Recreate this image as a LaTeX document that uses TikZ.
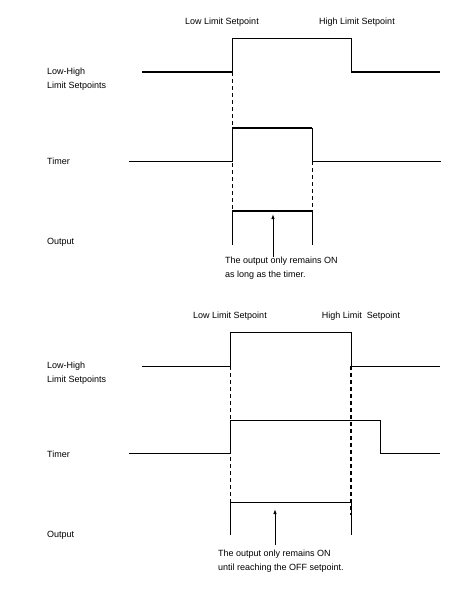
\documentclass[tikz,border=0pt]{standalone}
\usepackage{fontspec}
\setmainfont{Liberation Sans}
\usetikzlibrary{arrows.meta}
\begin{document}
\begin{tikzpicture}[x=1pt,y=-1pt,font=\fontsize{9}{14}\selectfont,
		sig/.style={black,line width=0.9pt},
		bold/.style={black,line width=2pt},
		guide/.style={black,line width=0.9pt,dash pattern=on 4pt off 3pt},
		txt/.style={inner sep=0pt,anchor=west,align=left}]
			\useasboundingbox (0,0) rectangle (471,590);
			% upper diagram
			\node[inner sep=0pt](lo1) at (222,22){Low Limit Setpoint};
			\node[inner sep=0pt](hi1) at (357,22){High Limit Setpoint};
			\node[txt](lh1) at (47,79){Low-High\\Limit Setpoints};
			\node[txt](tm1) at (47,161){Timer};
			\node[txt](out1) at (47,242){Output};
			\draw[bold](142,72)--(232,72);
			\draw[sig](232,72)--(232,38)--(351,38)--(351,72);
			\draw[bold](351,72)--(440,72);
			\draw[sig](129,161)--(232,161)--(232,128);
			\draw[bold](232,128)--(312,128);
			\draw[sig](312,128)--(312,161)--(441,161);
			\draw[guide](232,72)--(232,211);
			\draw[guide](312,161)--(312,211);
			\draw[bold](232,211)--(312,211);
			\draw[sig](232,211)--(232,245);
			\draw[sig](312,211)--(312,245);
			\coordinate(p1) at (273,257);
			\coordinate(q1) at (273,214);
			\draw[sig,-{Latex[length=5pt,width=3.5pt]}](p1)--(q1);
			\node[txt](note1) at (225,268){The output only remains ON\\as long as the timer.};
			% lower diagram
			\node[inner sep=0pt](lo2) at (230,316){Low Limit Setpoint};
			\node[inner sep=0pt](hi2) at (361,316){High Limit\ \ Setpoint};
			\node[txt](lh2) at (47,373){Low-High\\Limit Setpoints};
			\node[txt](tm2) at (47,454){Timer};
			\node[txt](out2) at (47,535){Output};
			\draw[sig](142,366)--(230,366)--(230,332)--(351,332)--(351,366)--(440,366);
			\draw[sig](129,453)--(230,453)--(230,420)--(380,420)--(380,453)--(440,453);
			\draw[guide](230,366)--(230,502);
			\draw[guide,line width=2pt](351,366)--(351,515);
			\draw[sig](230,502)--(351,502);
			\draw[sig](230,502)--(230,535);
			\draw[sig](351,502)--(351,535);
			\coordinate(p2) at (275,545);
			\coordinate(q2) at (275,509);
			\draw[sig,-{Latex[length=5pt,width=3.5pt]}](p2)--(q2);
			\node[txt](note2) at (218,561){The output only remains ON\\until reaching the OFF setpoint.};
		\end{tikzpicture}
\end{document}
